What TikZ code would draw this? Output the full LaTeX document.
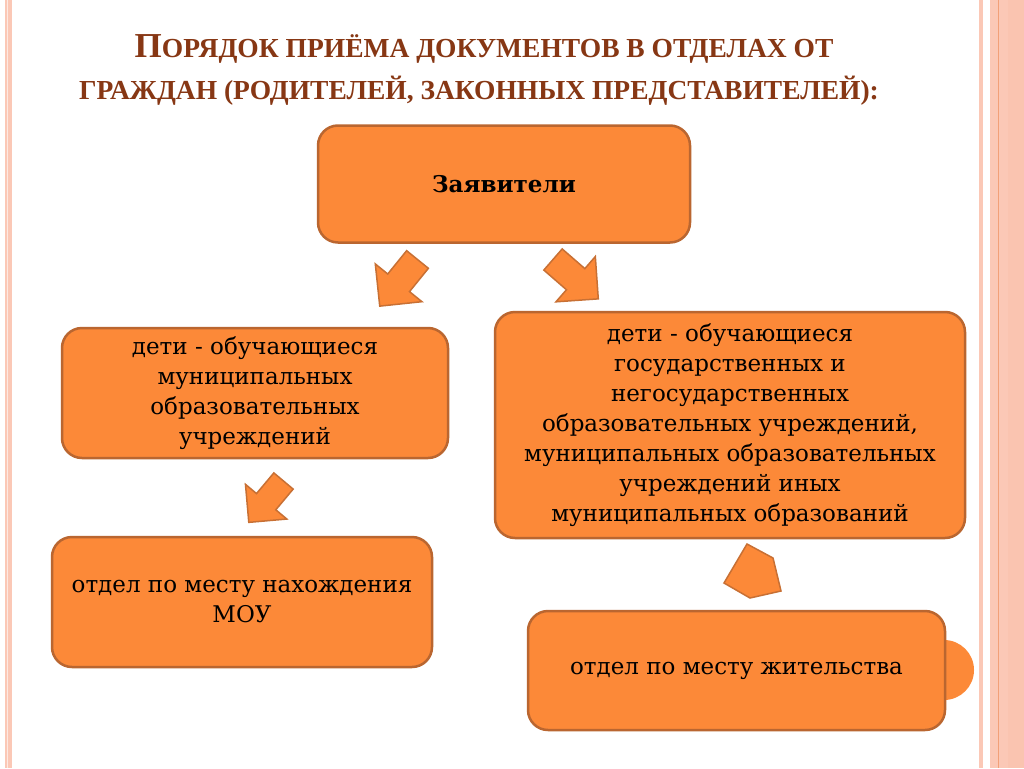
\documentclass[tikz,border=0pt]{standalone}
\usepackage{fontspec}
\setmainfont{DejaVu Serif}
\newfontfamily\titlefont{Liberation Serif}
\usepackage{tikz}
\usetikzlibrary{positioning}

\definecolor{boxorange}{RGB}{252,137,56}
\definecolor{boxborder}{RGB}{186,102,48}
\definecolor{arrowborder}{RGB}{200,112,52}
\definecolor{titlebrown}{RGB}{135,55,20}
\definecolor{stripepink}{RGB}{251,200,182}
\definecolor{stripeline}{RGB}{242,160,120}

\newcommand\bodysize{\fontsize{23}{30}\selectfont}
\newcommand\titlesize{\titlefont\bfseries\fontsize{27.5}{32}\selectfont}
\newcommand\initialcap[1]{{\fontsize{35}{36}\selectfont #1}}

\begin{document}
\begin{tikzpicture}[x=1pt, y=-1pt,
box/.style={draw=boxborder, line width=2.5pt, fill=boxorange, rounded corners=20pt, align=center, font=\bodysize, inner sep=0pt},
title/.style={text=titlebrown, font=\titlesize, anchor=base},
arrowshape/.style={draw=arrowborder, line width=1.5pt, fill=boxorange, line join=miter},
blockarrow/.pic={\path[arrowshape] (0,-14) -- (30,-14) -- (30,-30) -- (60,0) -- (30,30) -- (30,14) -- (0,14) -- cycle;}]

    \useasboundingbox (0,0) rectangle (1024,768);
    \fill[white] (0,0) rectangle (1024,768);

    % side stripes
    \fill[stripepink] (5,0) rectangle (12,768);
    \fill[white!60!stripepink] (6.5,0) rectangle (7.5,768);
    \fill[stripepink] (979,0) rectangle (983,768);
    \fill[stripepink] (990,0) rectangle (1024,768);
    \fill[stripeline] (997.5,0) rectangle (999,768);
    \fill[stripepink!90!stripeline] (1008,0) rectangle (1024,768);

    \node[title] (title-a) at (484,58) {\initialcap{П}ОРЯДОК ПРИЁМА ДОКУМЕНТОВ В ОТДЕЛАХ ОТ};
    \node[title] (title-b) at (479,99) {ГРАЖДАН (РОДИТЕЛЕЙ, ЗАКОННЫХ ПРЕДСТАВИТЕЛЕЙ):};

    \node[box, minimum width=372pt, minimum height=117pt] (applicants) at (504,184) {\bfseries Заявители};

    \node[box, minimum width=386pt, minimum height=130pt] (muni-pupils) at (255,393)
        {дети - обучающиеся\\муниципальных\\образовательных\\учреждений};
    \node[box, minimum width=470pt, minimum height=226pt] (other-pupils) at (730,425)
        {дети - обучающиеся\\государственных и\\негосударственных\\образовательных учреждений,\\муниципальных образовательных\\учреждений иных\\муниципальных образований};

    \node[box, minimum width=380pt, minimum height=130pt] (dept-school) at (242,602)
        {отдел по месту нахождения\\МОУ};

    \fill[boxorange] (944,670) circle (30);
    \node[box, minimum width=417pt, minimum height=119pt] (dept-home) at (736.5,670.5)
        {отдел по месту жительства};

    \pic[rotate=231] at (417.5,259.5) {blockarrow};
    \pic[rotate=-41] at (553,259.5) {blockarrow};
    \pic[rotate=230, scale=0.9] at (283.5,481) {blockarrow};
    \draw[arrowshape] (747,544) -- (773,558) -- (781,591) -- (750,598) -- (724,583) -- cycle;
    %
\end{tikzpicture}
\end{document}
